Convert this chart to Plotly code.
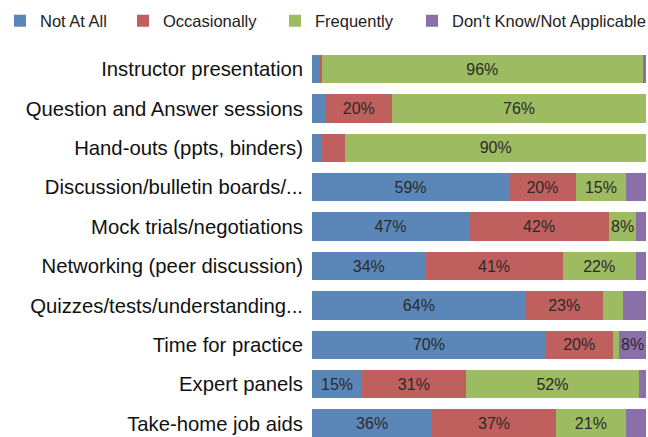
import plotly.graph_objects as go

# Training methods and how often each was used (percent of respondents)
categories = [
    "Instructor presentation",
    "Question and Answer sessions",
    "Hand-outs (ppts, binders)",
    "Discussion/bulletin boards/...",
    "Mock trials/negotiations",
    "Networking (peer discussion)",
    "Quizzes/tests/understanding...",
    "Time for practice",
    "Expert panels",
    "Take-home job aids",
]
not_at_all = [2, 4, 3, 59, 47, 34, 64, 70, 15, 36]
occasionally = [1, 20, 7, 20, 42, 41, 23, 20, 31, 37]
frequently = [96, 76, 90, 15, 8, 22, 6, 2, 52, 21]
dont_know = [1, 0, 0, 6, 3, 3, 7, 8, 2, 6]

series = [
    ("Not At All", not_at_all, "#5A87B8", "legend", 13),
    ("Occasionally", occasionally, "#C0605E", "legend2", 140),
    ("Frequently", frequently, "#9DBB61", "legend3", 292),
    ("Don't Know/Not Applicable", dont_know, "#8A6FA9", "legend4", 429),
]

W, H = 648, 437
positions = list(range(len(categories)))

fig = go.Figure()
for name, vals, color, leg, _ in series:
    fig.add_trace(go.Bar(
        y=positions,
        x=vals,
        name=name,
        orientation="h",
        width=0.72,
        marker=dict(color=color, line=dict(width=0)),
        text=[f"{v}%" if v >= 8 else "" for v in vals],
        textposition="inside",
        insidetextanchor="middle",
        textangle=0,
        constraintext="none",
        textfont=dict(family="Liberation Sans, Arial", size=16, color="#2a2a2a"),
        legend=leg,
        cliponaxis=False,
    ))

legend_style = {}
for name, vals, color, leg, sq_x in series:
    legend_style[leg] = dict(
        xref="container", yref="container",
        x=(sq_x - 17) / W, y=1 - 21 / H,
        xanchor="left", yanchor="middle",
        orientation="h",
        font=dict(family="Liberation Sans, Arial", size=16.5, color="#222222"),
        bgcolor="rgba(0,0,0,0)",
        borderwidth=0,
    )

fig.update_layout(
    width=W, height=H,
    barmode="stack",
    plot_bgcolor="white",
    paper_bgcolor="white",
    margin=dict(l=312, r=2, t=49, b=0),
    showlegend=True,
    **legend_style,
)
fig.update_xaxes(range=[0, 100], visible=False, fixedrange=True)
fig.update_yaxes(
    range=[9.34, -0.508],
    tickmode="array",
    tickvals=positions,
    ticktext=categories,
    ticks="",
    ticklabelstandoff=8,
    showgrid=False,
    zeroline=False,
    showline=False,
    tickfont=dict(family="Liberation Sans, Arial", size=20.3, color="#111111"),
)

fig.write_html("out.html")
